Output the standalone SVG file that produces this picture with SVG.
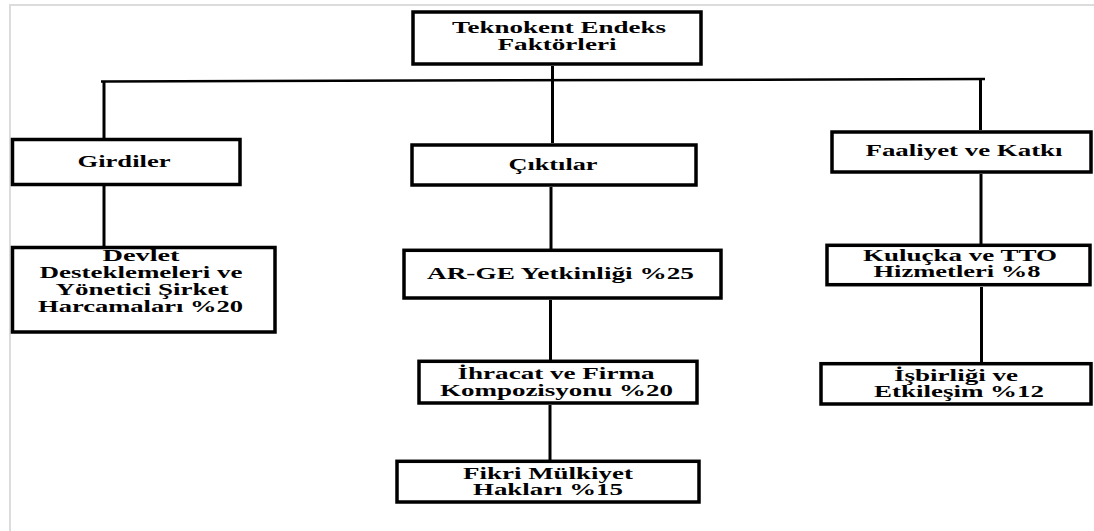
<svg xmlns="http://www.w3.org/2000/svg" width="1094" height="531" viewBox="0 0 1094 531">
<style>
.bg{fill:#ffffff}
.frame{stroke:#dcdcdc;stroke-width:2;fill:none}
.box{fill:#ffffff;stroke:#000000;stroke-width:3.5}
.ln{stroke:#000000;stroke-width:3;fill:none}
.hl{stroke:#000000;stroke-width:2.5;fill:none}
text{font-family:"Liberation Serif","Times New Roman",serif;font-weight:bold;font-size:16px;fill:#000000;text-anchor:middle}
</style>
<rect class="bg" x="0" y="0" width="1094" height="531"/>
<path class="frame" d="M10 531 V5 H1094"/>
<g id="connectors">
<line class="hl" x1="101" y1="81.5" x2="985" y2="79"/>
<line class="ln" x1="552.5" y1="66" x2="552.5" y2="143"/>
<line class="ln" x1="104" y1="81" x2="104" y2="138"/>
<line class="ln" x1="980.5" y1="80" x2="980.5" y2="130"/>
<line class="ln" x1="104" y1="186" x2="104" y2="246"/>
<line class="ln" x1="551" y1="187" x2="551" y2="249"/>
<line class="ln" x1="550.5" y1="300" x2="550.5" y2="360"/>
<line class="ln" x1="550" y1="405" x2="550" y2="460"/>
<line class="ln" x1="981" y1="174" x2="981" y2="244"/>
<line class="ln" x1="981.5" y1="287" x2="981.5" y2="362"/>
</g>
<g id="n-root">
<rect class="box" x="413" y="12" width="288" height="52"/>
<text x="559" y="33" textLength="214" lengthAdjust="spacingAndGlyphs">Teknokent Endeks</text>
<text x="557" y="50" textLength="119" lengthAdjust="spacingAndGlyphs">Faktörleri</text>
</g>
<g id="n-girdiler">
<rect class="box" x="12.5" y="139.5" width="227.5" height="45"/>
<text x="124" y="167" textLength="93" lengthAdjust="spacingAndGlyphs">Girdiler</text>
</g>
<g id="n-ciktilar">
<rect class="box" x="412" y="145" width="284" height="40"/>
<text x="553" y="170" textLength="89" lengthAdjust="spacingAndGlyphs">Çıktılar</text>
</g>
<g id="n-faaliyet">
<rect class="box" x="832" y="132" width="259" height="40"/>
<text x="964" y="156" textLength="197" lengthAdjust="spacingAndGlyphs">Faaliyet ve Katkı</text>
</g>
<g id="n-devlet">
<rect class="box" x="12.5" y="247.5" width="262.5" height="84.5"/>
<text x="141" y="261" textLength="77" lengthAdjust="spacingAndGlyphs">Devlet</text>
<text x="141" y="278" textLength="203" lengthAdjust="spacingAndGlyphs">Desteklemeleri ve</text>
<text x="142" y="294.5" textLength="173" lengthAdjust="spacingAndGlyphs">Yönetici Şirket</text>
<text x="140.5" y="311.5" textLength="205" lengthAdjust="spacingAndGlyphs">Harcamaları %20</text>
</g>
<g id="n-arge">
<rect class="box" x="404" y="250.3" width="317" height="47.7"/>
<text x="560.5" y="279" textLength="267" lengthAdjust="spacingAndGlyphs">AR-GE Yetkinliği %25</text>
</g>
<g id="n-ihracat">
<rect class="box" x="419" y="361.3" width="278" height="41.7"/>
<text x="556" y="379" textLength="197" lengthAdjust="spacingAndGlyphs">İhracat ve Firma</text>
<text x="556.5" y="396" textLength="233" lengthAdjust="spacingAndGlyphs">Kompozisyonu %20</text>
</g>
<g id="n-fikri">
<rect class="box" x="397" y="461.3" width="302" height="40.7"/>
<text x="548" y="478.7" textLength="170" lengthAdjust="spacingAndGlyphs">Fikri Mülkiyet</text>
<text x="548" y="495" textLength="150" lengthAdjust="spacingAndGlyphs">Hakları %15</text>
</g>
<g id="n-kulucka">
<rect class="box" x="827" y="245.3" width="263" height="39.4"/>
<text x="960" y="260.7" textLength="194" lengthAdjust="spacingAndGlyphs">Kuluçka ve TTO</text>
<text x="957" y="276.7" textLength="167" lengthAdjust="spacingAndGlyphs">Hizmetleri %8</text>
</g>
<g id="n-isbirligi">
<rect class="box" x="821" y="363.7" width="270" height="40.3"/>
<text x="956" y="380.7" textLength="124" lengthAdjust="spacingAndGlyphs">İşbirliği ve</text>
<text x="959" y="396.7" textLength="170" lengthAdjust="spacingAndGlyphs">Etkileşim %12</text>
</g>
</svg>
